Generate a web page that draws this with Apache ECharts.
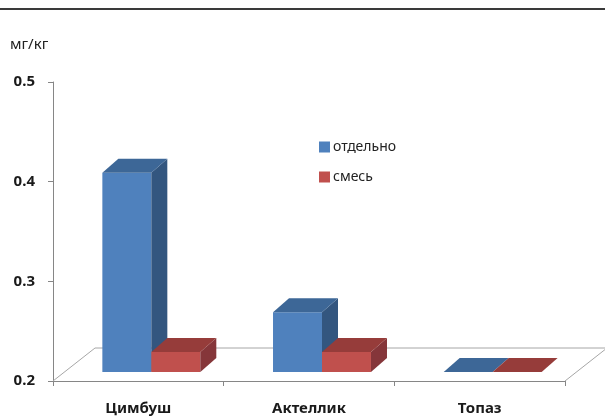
<!DOCTYPE html>
<html>
<head>
<meta charset="utf-8">
<script src="https://cdn.jsdelivr.net/npm/echarts@6/dist/echarts.min.js"></script>
<style>
html, body { margin: 0; padding: 0; background: #fff; }
#main { width: 605px; height: 418px; }
</style>
</head>
<body>
<div id="main"></div>
<script>
// данные
var categories = ['Цимбуш', 'Актеллик', 'Топаз'];
var separate = [0.40, 0.26, 0.20];   // отдельно
var mixture = [0.22, 0.22, 0.20];    // смесь
var yTicks = [0.2, 0.3, 0.4, 0.5];

var FONT = '"Noto Sans", "Open Sans", sans-serif';

// 3D параметры (пиксели)
var OX = 13, OY = -9;      // сдвиг передней грани столбца от переднего края пола
var DX = 16, DY = -14;     // глубина столбца
var FDX = 42, FDY = -33;   // глубина пола

function barRender(colors, side) {
    return function (params, api) {
        var idx = api.value(0);
        var val = api.value(1);
        var base = api.coord([idx, yTicks[0]]);
        var top = api.coord([idx, val]);
        var band = api.size([1, 0])[0];
        var bw = band * 0.287;
        var cx = base[0] + OX;
        var x0 = side === 0 ? cx - bw : cx;
        var yb = base[1] + OY;
        var yt = top[1] + OY;
        var children = [];
        if (yb - yt > 0.5) {
            children.push({
                type: 'rect',
                shape: { x: x0, y: yt, width: bw, height: yb - yt },
                style: { fill: colors[0] }
            });
            children.push({
                type: 'polygon',
                shape: { points: [[x0 + bw, yt], [x0 + bw + DX, yt + DY], [x0 + bw + DX, yb + DY], [x0 + bw, yb]] },
                style: { fill: colors[2] }
            });
        }
        children.push({
            type: 'polygon',
            shape: { points: [[x0, yt], [x0 + bw, yt], [x0 + bw + DX, yt + DY], [x0 + DX, yt + DY]] },
            style: { fill: colors[1] }
        });
        return { type: 'group', children: children };
    };
}

function floorRender(params, api) {
    var cs = params.coordSys;
    var yf = api.coord([0, yTicks[0]])[1];
    var xl = cs.x, xr = cs.x + cs.width;
    return {
        type: 'polyline',
        shape: { points: [[xl, yf], [xl + FDX, yf + FDY], [xr + FDX, yf + FDY], [xr, yf]] },
        style: { fill: null, stroke: '#a6a6a6', lineWidth: 1 },
        silent: true
    };
}

var blue = ['#4f81bd', '#3d6797', '#33567f'];
var red = ['#c0504d', '#963c3a', '#85363a'];

var option = {
    animation: false,
    textStyle: { fontFamily: FONT },
    title: {
        text: 'мг/кг',
        left: 5,
        top: 32,
        textStyle: { fontSize: 15, fontWeight: 'normal', color: '#222', fontFamily: FONT }
    },
    graphic: [{
        type: 'line',
        shape: { x1: 0, y1: 9, x2: 605, y2: 9 },
        style: { stroke: '#3a3a3a', lineWidth: 2 }
    }],
    legend: {
        orient: 'vertical',
        left: 314,
        top: 135,
        itemWidth: 11,
        itemHeight: 11,
        itemGap: 16,
        icon: 'rect',
        data: ['отдельно', 'смесь'],
        textStyle: { fontSize: 14, color: '#222', fontFamily: FONT, padding: [0, 0, 0, -2] }
    },
    grid: { left: 53, right: 40, top: 82, bottom: 37 },
    xAxis: {
        type: 'category',
        data: categories,
        axisLine: { lineStyle: { color: '#868686' } },
        axisTick: { show: true, length: 5, lineStyle: { color: '#868686' } },
        axisLabel: { fontSize: 15, fontWeight: 'bold', color: '#1a1a1a', margin: 20, fontFamily: FONT },
        splitLine: { show: false }
    },
    yAxis: {
        type: 'value',
        min: yTicks[0],
        max: yTicks[yTicks.length - 1],
        interval: 0.1,
        axisLine: { show: true, lineStyle: { color: '#868686' } },
        axisTick: { show: true, length: 5, lineStyle: { color: '#868686' } },
        axisLabel: {
            fontSize: 15, fontWeight: 'bold', color: '#1a1a1a', margin: 18, fontFamily: FONT,
            formatter: function (v) { return v.toFixed(1); }
        },
        splitLine: { show: false }
    },
    series: [
        {
            name: 'пол',
            type: 'custom',
            renderItem: floorRender,
            data: [[0, yTicks[0]]],
            silent: true,
            z: 1
        },
        {
            name: 'отдельно',
            type: 'custom',
            renderItem: barRender(blue, 0),
            itemStyle: { color: blue[0] },
            encode: { x: 0, y: 1 },
            data: categories.map(function (c, i) { return [i, separate[i]]; }),
            z: 2
        },
        {
            name: 'смесь',
            type: 'custom',
            renderItem: barRender(red, 1),
            itemStyle: { color: red[0] },
            encode: { x: 0, y: 1 },
            data: categories.map(function (c, i) { return [i, mixture[i]]; }),
            z: 3
        }
    ]
};

var myChart = echarts.init(document.getElementById('main'));
myChart.setOption(option);
</script>
</body>
</html>
